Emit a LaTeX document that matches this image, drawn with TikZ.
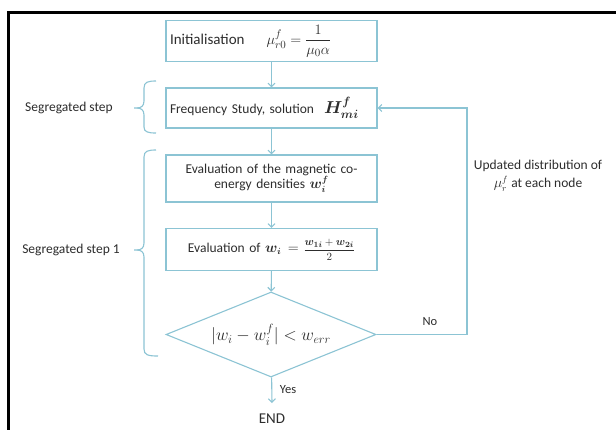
\documentclass[tikz,border=0pt]{standalone}
\usepackage{fontspec}
\setmainfont{Carlito}
\usepackage{amsmath}
\usepackage{bm}
\usetikzlibrary{shapes.geometric,arrows.meta}
\definecolor{flow}{RGB}{140,196,212}
\definecolor{ink}{RGB}{45,45,45}
\tikzset{
  box/.style={draw=flow, line width=1.1pt, minimum width=211pt, inner sep=3pt, text=ink, font=\fontsize{13.5}{16}\selectfont},
  dec/.style={draw=flow, line width=1.1pt, shape=diamond, aspect=2.47, minimum width=210pt, minimum height=85pt, inner sep=0pt, text=ink},
  lbl/.style={text=ink, font=\fontsize{13.5}{16}\selectfont, inner sep=0pt},
  flowarrow/.style={draw=flow, line width=1.1pt, -{Straight Barb[length=3.5pt,width=7pt]}},
  bracepath/.style={draw=flow, line width=1.1pt, line join=miter},
}
\begin{document}
\begin{tikzpicture}[x=1pt,y=-1pt]
\useasboundingbox (0,0) rectangle (616,429);
\fill[white] (0,0) rectangle (616,429);
% frame
\draw[black, line width=3pt] (8.5,432) -- (8.5,12.5) -- (620,12.5);

% boxes
\node[box, minimum height=41pt, text width=203pt, align=left] (init) at (271.5,41.2)
  {\fontsize{15}{17}\selectfont Initialisation\hspace{22pt}$\mu_{r0}^{f}=\dfrac{1}{\mu_0\alpha}$};
\node[box, minimum height=40pt, text width=203pt, align=left] (freq) at (271.5,108)
  {Frequency Study, solution\hspace{10pt}{\fontsize{17}{17}\selectfont$\bm{H_{mi}^{f}}$}};
\node[box, minimum height=47pt, text width=203pt, align=center] (coen) at (271.5,178.5)
  {Evaluation of the magnetic co-\\[-1pt]energy densities $\bm{w_i^f}$};
\node[box, minimum height=42pt, text width=203pt, align=center] (evw) at (271.5,249.5)
  {Evaluation of $\bm{w_i} =$ {\fontsize{11}{11}\selectfont$\dfrac{\bm{w_{1i}}+\bm{w_{2i}}}{2}$}};
\node[dec] (dia) at (271,334.5)
  {\fontsize{17}{17}\selectfont$\lvert w_i - w_i^f\rvert < w_{err}$};
\node[lbl, font=\fontsize{15}{17}\selectfont] (endn) at (272,419) {END};

\coordinate (yesend) at (272,403);
\coordinate (fb) at (467,108);

% connectors
\draw[flowarrow] (init) -- (freq);
\draw[flowarrow] (freq) -- (coen);
\draw[flowarrow] (coen) -- (evw);
\draw[flowarrow] (evw) -- (dia);
\draw[flowarrow] (dia) -- (yesend);
\draw[flowarrow] (dia.east) -| (fb) -- (freq.east);

% connector labels
\node[lbl, font=\fontsize{12.5}{14}\selectfont] (yes) at (288,390) {Yes};
\node[lbl, font=\fontsize{12.5}{14}\selectfont] (no) at (430,322) {No};
\node[lbl, align=center, font=\fontsize{13.5}{18}\selectfont] (upd) at (538,176)
  {Updated distribution of\\$\mu_r^f$ at each node};

% braces
\draw[bracepath] (156,81) .. controls (148,81) and (144,82) .. (144,88) -- (144,101)
  .. controls (144,106) and (141,108) .. (137,108) -- (134,108);
\draw[bracepath] (137,108) .. controls (141,108) and (144,110) .. (144,115) -- (144,127)
  .. controls (144,132) and (148,133) .. (156,133);
\draw[bracepath] (156,150) .. controls (148,150) and (144,151) .. (144,157) -- (144,243)
  .. controls (144,248) and (141,250) .. (137,250) -- (134,250);
\draw[bracepath] (137,250) .. controls (141,250) and (144,252) .. (144,257) -- (144,349)
  .. controls (144,355) and (148,356) .. (158,356);
\node[lbl] (seg) at (69,108) {Segregated step};
\node[lbl] (seg1) at (71,250) {Segregated step 1};
\end{tikzpicture}
\end{document}
